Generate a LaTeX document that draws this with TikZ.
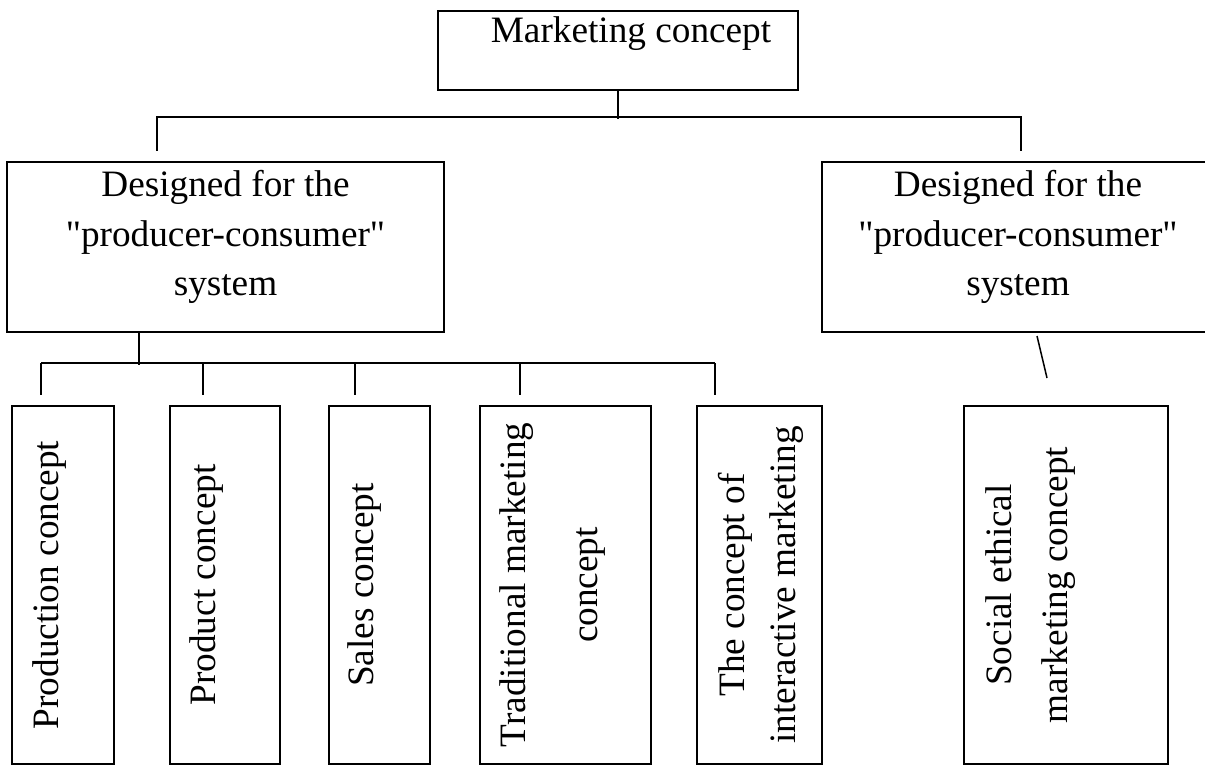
\documentclass[tikz,border=0pt]{standalone}
\usepackage{fontspec}
\setmainfont{Liberation Serif}

\begin{document}
\begin{tikzpicture}[x=0.4pt,y=-0.4pt,
  box/.style={draw,line width=0.8pt,inner sep=0pt},
  small/.style={box,minimum width=#1,minimum height=143.2pt},
  txt/.style={font=\fontsize{14.9}{19.8}\selectfont,align=center,inner sep=0pt},
  vtxt/.style={txt,rotate=90},
  link/.style={line width=0.6pt}]
  \useasboundingbox (0,0) rectangle (1205,765);
  \clip (0,0) rectangle (1205,765);
  % boxes
  \node[box,minimum width=144pt,minimum height=31.6pt]   (mc)   at (618,50.5) {};
  \node[box,minimum width=174.8pt,minimum height=68pt]   (desL) at (225.5,247) {};
  \node[box,minimum width=156.8pt,minimum height=68pt]   (desR) at (1018,247) {};
  \node[small=40.8pt] (b1) at (63,585) {};
  \node[small=44pt]   (b2) at (225,585) {};
  \node[small=40.4pt] (b3) at (379.5,585) {};
  \node[small=68.4pt] (b4) at (565.5,585) {};
  \node[small=50pt]   (b5) at (759.5,585) {};
  \node[small=81.6pt] (b6) at (1066,585) {};
  % texts
  \node[txt,anchor=base] (mct) at (631,43) {Marketing concept};
  \node[txt] (dlt) at (225.5,237) {Designed for the\\\textquotedbl producer-consumer\textquotedbl\\system};
  \node[txt] (drt) at (1018,237) {Designed for the\\\textquotedbl producer-consumer\textquotedbl\\system};
  \node[vtxt] (t1) at (49.5,585)  {Production concept};
  \node[vtxt] (t2) at (206.5,585) {Product concept};
  \node[vtxt] (t3) at (365,585)   {Sales concept};
  \node[vtxt] (t4) at (553,585)   {Traditional marketing\\[9pt]concept};
  \node[vtxt] (t5) at (760.5,585) {The concept of\\[0.6pt]interactive marketing};
  \node[vtxt] (t6) at (1031,585)  {Social ethical\\[2.6pt]marketing concept};
  % connectors
  \draw[link] (mc.south) -- ++(0,28);
  \draw[link] ([shift={(-68.5,-10)}]desL.north) |- ([shift={(3,-44)}]desR.north) -- ++(0,34);
  \draw[link] ([shift={(-86.5,0)}]desL.south) -- ++(0,32);
  \draw[link] ([shift={(-22,-42)}]b1.north) -- ([shift={(-44.5,-42)}]b5.north);
  \foreach \b/\dx in {b1/-22,b2/-22,b3/-24.5,b4/-45.5,b5/-44.5}
    \draw[link] ([shift={(\dx,-10)}]\b.north) -- ++(0,-32);
  \draw[link] ([shift={(19,3)}]desR.south) -- ([shift={(29,45)}]desR.south);
\end{tikzpicture}
\end{document}
